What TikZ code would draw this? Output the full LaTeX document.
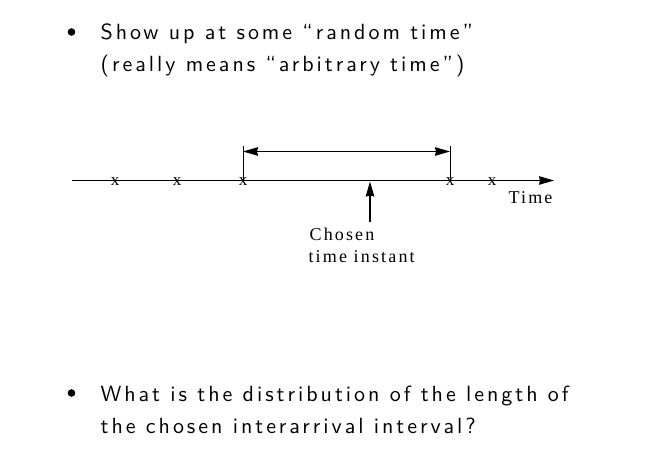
\documentclass[tikz,border=0pt]{standalone}
\usepackage{fontspec}
\newfontfamily\figfont[LetterSpace=12]{Liberation Serif}
\newfontfamily\markfont{Liberation Serif}
\newfontfamily\slidefont{lmsans10-regular}[Extension=.otf, LetterSpace=13.5]
\usetikzlibrary{arrows.meta}

\begin{document}
\begin{tikzpicture}[x=1pt,y=-1pt,
    line width=1.2pt,
    slidetext/.style={anchor=base west, inner sep=0pt, font=\slidefont\fontsize{22}{26}\selectfont},
    figlabel/.style={anchor=base west, inner sep=0pt, font=\figfont\fontsize{18}{20}\selectfont},
    arrivalx/.style={inner sep=0pt, font=\markfont\fontsize{17}{17}\selectfont},
    headtip/.style={-{Stealth[length=15pt,width=8.5pt,inset=1pt]}},
    bothtips/.style={{Stealth[length=15pt,width=8.5pt,inset=1pt]}-{Stealth[length=15pt,width=8.5pt,inset=1pt]}}]
    \useasboundingbox (0,0) rectangle (651,460);

    % first bullet
    \fill (71.5,32) circle (3.8pt);
    \node[slidetext] (showup) at (100,40) {Show up at some “random time”};
    \node[slidetext] (really) at (100,72) {(really means “arbitrary time”)};

    % time axis
    \coordinate (axisstart) at (72,180.5);
    \coordinate (axisend) at (554,180.5);
    \draw[headtip] (axisstart) -- (axisend);
    \node[figlabel] (time) at (508,203) {Time};

    % arrivals
    \node[arrivalx] (a1) at (115,182) {x};
    \node[arrivalx] (a2) at (177,182) {x};
    \node[arrivalx] (a3) at (243,182) {x};
    \node[arrivalx] (a4) at (450,182) {x};
    \node[arrivalx] (a5) at (492,182) {x};

    % chosen interval
    \coordinate (left) at (243,146);
    \coordinate (right) at (450,146);
    \coordinate (leftend) at (243,151.5);
    \coordinate (rightend) at (450,151.5);
    \draw[line width=0.7pt] (left) -- (a3.center);
    \draw[line width=0.7pt] (right) -- (a4.center);
    \draw[bothtips] (leftend) -- (rightend);

    % chosen instant
    \coordinate (instant) at (370,181.5);
    \coordinate (below) at (370,222);
    \draw[headtip] (below) -- (instant);
    \node[figlabel] (chosen) at (309,240) {Chosen};
    \node[figlabel] (tinstant) at (308,262) {time instant};

    % second bullet
    \fill (71.5,393) circle (3.8pt);
    \node[slidetext] (what) at (100,401) {What is the distribution of the length of};
    \node[slidetext] (interval) at (100,433) {the chosen interarrival interval?};
\end{tikzpicture}
\end{document}
